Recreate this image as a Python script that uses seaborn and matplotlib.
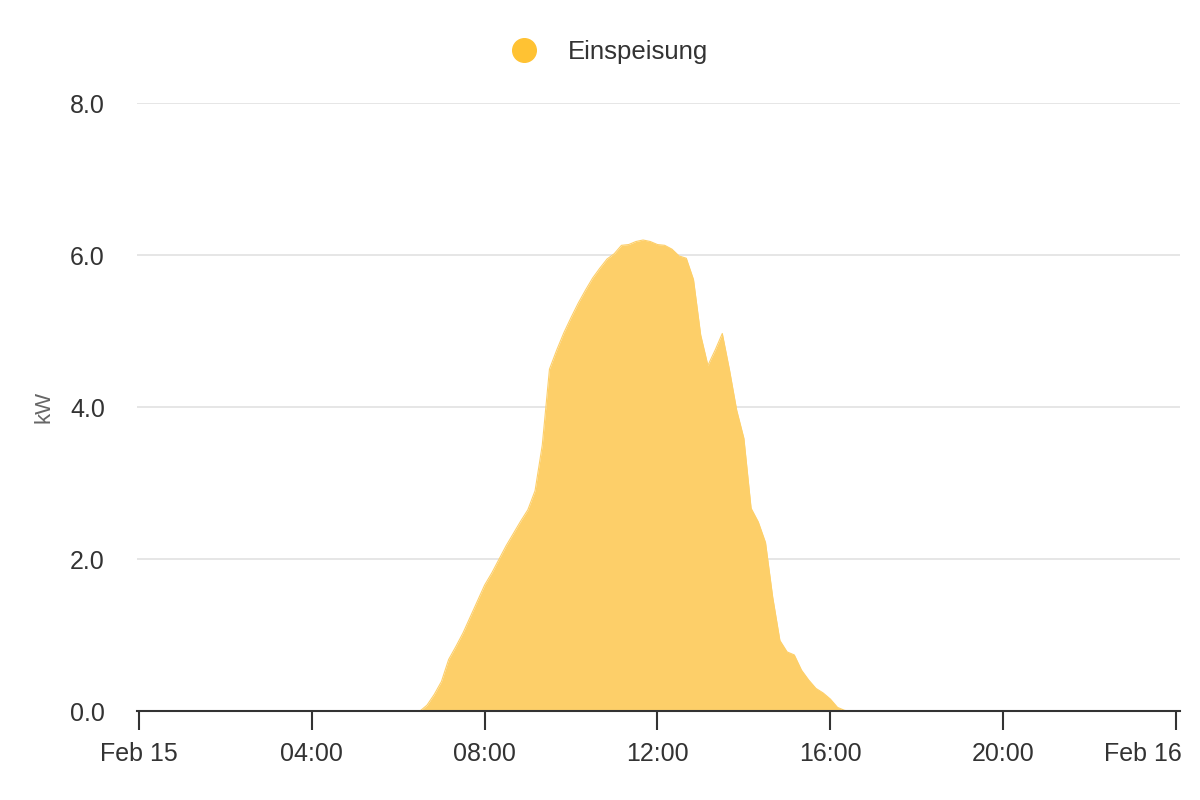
import numpy as np
import pandas as pd
import seaborn as sns
import matplotlib.pyplot as plt
import matplotlib.dates as mdates
import matplotlib.transforms as mtrans
from matplotlib.lines import Line2D

# Einspeisung, 10-Minuten-Werte (kW) von 06:30 bis 16:30
start = "2024-02-15 06:30"
kw = [0.0, 0.08, 0.22, 0.39, 0.68, 0.85, 1.03, 1.24, 1.45, 1.66,
      1.82, 2.00, 2.18, 2.34, 2.50, 2.65, 2.90, 3.50, 4.50, 4.75,
      4.98, 5.18, 5.37, 5.54, 5.70, 5.83, 5.95, 6.02, 6.13, 6.14,
      6.18, 6.20, 6.18, 6.14, 6.13, 6.08, 5.99, 5.96, 5.68, 4.95,
      4.55, 4.75, 4.97, 4.49, 3.96, 3.59, 2.67, 2.49, 2.22, 1.50,
      0.93, 0.78, 0.74, 0.54, 0.41, 0.30, 0.24, 0.16, 0.05, 0.01,
      0.0]
y_ticks = [0, 2, 4, 6, 8]
series_name = "Einspeisung"

df = pd.DataFrame({
    "time": pd.date_range(start, periods=len(kw), freq="10min"),
    "kW": kw,
})

sns.set_theme(style="white")
plt.rcParams["font.family"] = ["Liberation Sans", "DejaVu Sans"]

fill_color = "#fdcf69"
marker_color = "#ffc233"
text_color = "#333333"

fig = plt.figure(figsize=(12, 8), dpi=100)
ax = fig.add_axes([0.114, 0.111, 0.869, 0.76])

ax.fill_between(df["time"], df["kW"], 0, color=fill_color, lw=0, zorder=2)
sns.lineplot(data=df, x="time", y="kW", ax=ax, color=fill_color, lw=0.8, zorder=2)

day0 = pd.Timestamp("2024-02-15 00:00")
day1 = pd.Timestamp("2024-02-16 00:00")
ax.set_xlim(day0 - pd.Timedelta(minutes=3), day1 + pd.Timedelta(minutes=5))
ax.set_ylim(0, 8)
ax.set_yticks(y_ticks)
ax.set_yticklabels([f"{v:.1f}" for v in y_ticks])

ax.xaxis.set_major_locator(mdates.HourLocator(byhour=[0, 4, 8, 12, 16, 20]))


def fmt(x, pos=None):
    d = mdates.num2date(x)
    if d.hour == 0 and d.minute == 0:
        return d.strftime("%b %d")
    return d.strftime("%H:%M")


ax.xaxis.set_major_formatter(plt.FuncFormatter(fmt))

ax.grid(axis="y", color="#e2e2e2", lw=1.2, zorder=0)
ax.grid(axis="x", visible=False)
for s in ["left", "right", "top"]:
    ax.spines[s].set_visible(False)
ax.spines["bottom"].set_color(text_color)
ax.spines["bottom"].set_linewidth(1.5)
ax.spines["bottom"].set_zorder(3)

ax.tick_params(axis="x", direction="out", length=14, width=1.5, color=text_color,
               labelsize=18, labelcolor=text_color, pad=8, bottom=True)
ax.tick_params(axis="y", length=0, labelsize=18, labelcolor=text_color, pad=23)

# letzte Beschriftung (Feb 16) innerhalb des Bildes halten
fig.canvas.draw()
last = ax.get_xticklabels()[-1]
last.set_horizontalalignment("right")
last.set_transform(last.get_transform() + mtrans.ScaledTranslation(4 / 72, 0, fig.dpi_scale_trans))

ax.set_xlabel("")
ax.set_ylabel("kW", color="#666666", fontsize=16, labelpad=11)

handle = Line2D([], [], marker="o", ls="", markersize=17, color=marker_color)
fig.legend([handle], [series_name], loc="center", bbox_to_anchor=(0.503, 0.935),
           frameon=False, fontsize=18.5, labelcolor=text_color, handletextpad=0.7)

fig.savefig("out.png", dpi=100)
